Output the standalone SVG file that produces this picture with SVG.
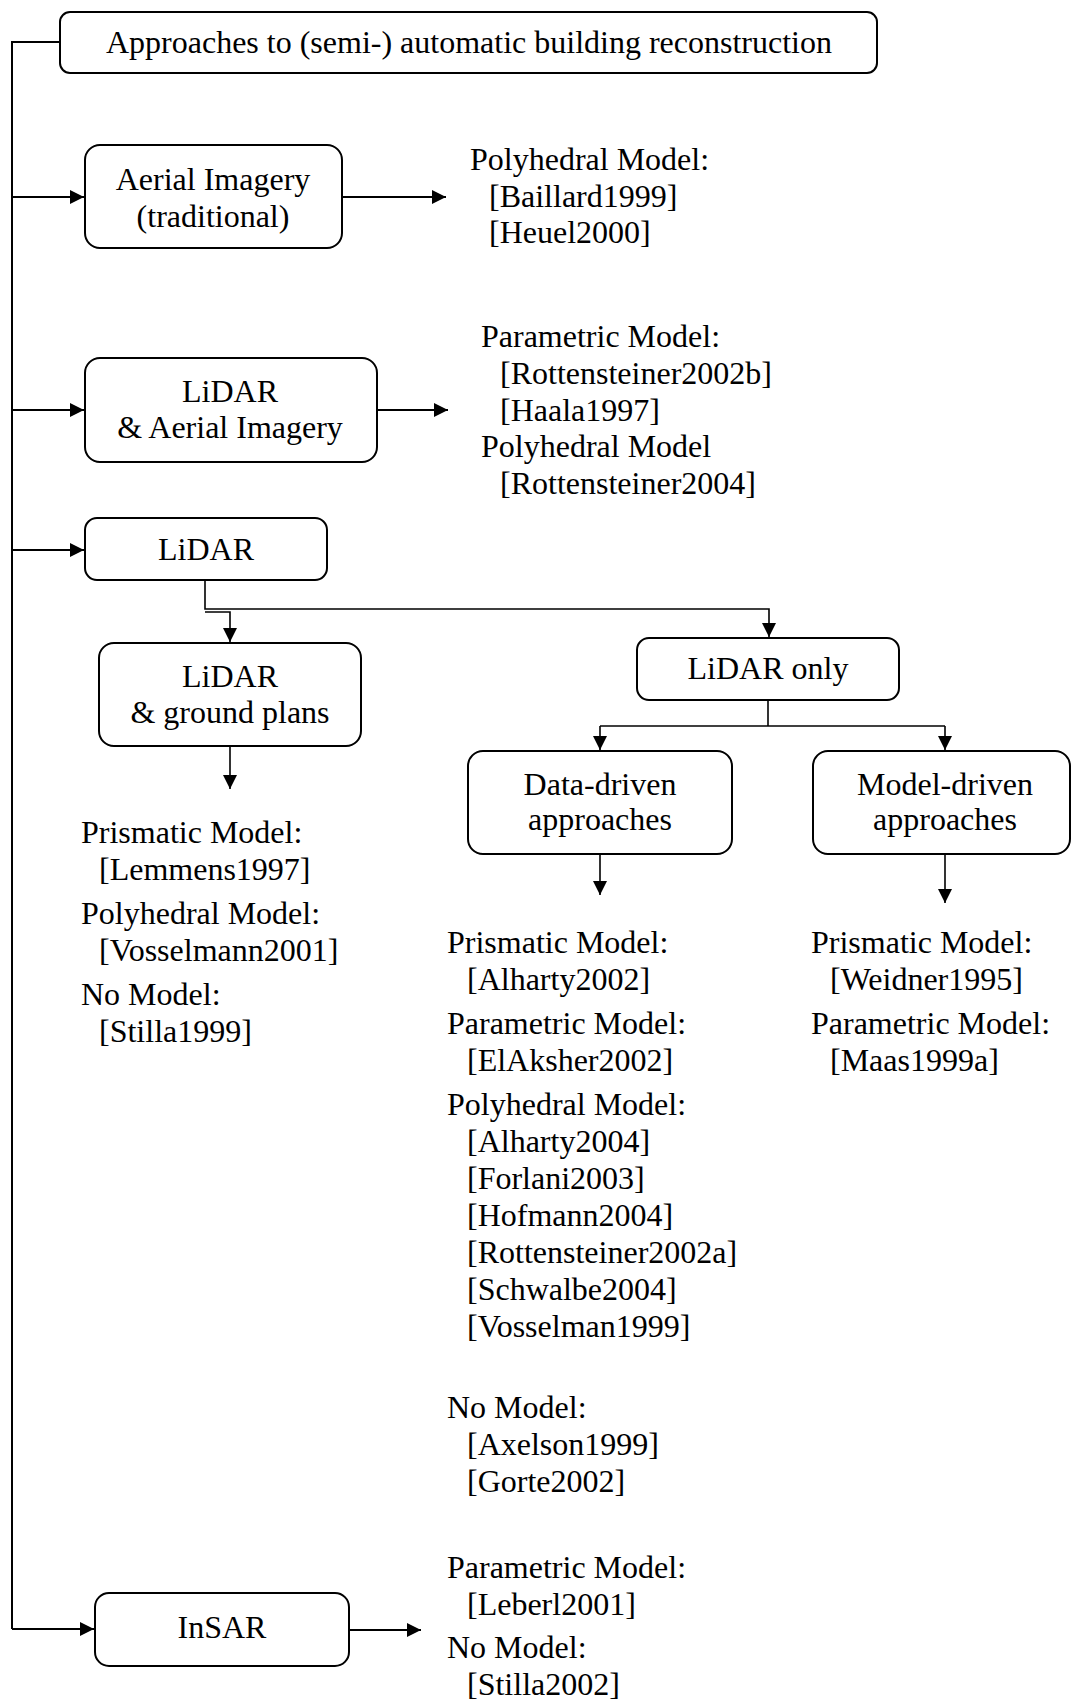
<svg xmlns="http://www.w3.org/2000/svg" width="1072" height="1701" viewBox="0 0 1072 1701">
<style>
.box{fill:#fff;stroke:#000;stroke-width:2}
.t{font-family:"Liberation Serif","Times New Roman",serif;font-size:32px;fill:#000}
.c{text-anchor:middle}
.ln{fill:none;stroke:#000;stroke-width:2}
.ln2{fill:none;stroke:#000;stroke-width:1.6}
</style>
<defs>
<marker id="ah" markerUnits="userSpaceOnUse" markerWidth="16" markerHeight="14" refX="14" refY="7" orient="auto">
<path d="M0,0 L14,7 L0,14 Z" fill="#000"/>
</marker>
</defs>
<rect width="1072" height="1701" fill="#fff"/>

<g id="connectors">
<path class="ln" d="M60,42 H12 V1629"/>
<path class="ln" d="M12,197 H84" marker-end="url(#ah)"/>
<path class="ln" d="M12,410 H84" marker-end="url(#ah)"/>
<path class="ln" d="M12,550 H84" marker-end="url(#ah)"/>
<path class="ln" d="M12,1629 H94" marker-end="url(#ah)"/>
<path class="ln" d="M342,197 H446" marker-end="url(#ah)"/>
<path class="ln" d="M377,410 H448" marker-end="url(#ah)"/>
<path class="ln" d="M349,1630 H421" marker-end="url(#ah)"/>
<path class="ln2" d="M205,580 V609 H769 V637" marker-end="url(#ah)"/>
<path class="ln2" d="M205,612 H230 V642" marker-end="url(#ah)"/>
<path class="ln2" d="M230,746 V789" marker-end="url(#ah)"/>
<path class="ln2" d="M768,700 V726"/>
<path class="ln2" d="M600,726 H945"/>
<path class="ln2" d="M600,726 V750" marker-end="url(#ah)"/>
<path class="ln2" d="M945,726 V750" marker-end="url(#ah)"/>
<path class="ln2" d="M600,854 V895" marker-end="url(#ah)"/>
<path class="ln2" d="M945,854 V903" marker-end="url(#ah)"/>
</g>

<g id="title">
<rect class="box" x="60" y="12" width="817" height="61" rx="10"/>
<text class="t c" x="469" y="53">Approaches to (semi-) automatic building reconstruction</text>
</g>

<g id="aerial">
<rect class="box" x="85" y="145" width="257" height="103" rx="15"/>
<text class="t c" x="213" y="190">Aerial Imagery</text>
<text class="t c" x="213" y="227">(traditional)</text>
</g>
<g id="aerial-refs">
<text class="t" x="470" y="170">Polyhedral Model:</text>
<text class="t" x="489" y="207">[Baillard1999]</text>
<text class="t" x="489" y="243">[Heuel2000]</text>
</g>

<g id="lidar-aerial">
<rect class="box" x="85" y="358" width="292" height="104" rx="15"/>
<text class="t c" x="230" y="402">LiDAR</text>
<text class="t c" x="230" y="438">&amp; Aerial Imagery</text>
</g>
<g id="lidar-aerial-refs">
<text class="t" x="481" y="347">Parametric Model:</text>
<text class="t" x="500" y="384">[Rottensteiner2002b]</text>
<text class="t" x="500" y="421">[Haala1997]</text>
<text class="t" x="481" y="457">Polyhedral Model</text>
<text class="t" x="500" y="494">[Rottensteiner2004]</text>
</g>

<g id="lidar">
<rect class="box" x="85" y="518" width="242" height="62" rx="12"/>
<text class="t c" x="206" y="560">LiDAR</text>
</g>

<g id="lidar-ground">
<rect class="box" x="99" y="643" width="262" height="103" rx="15"/>
<text class="t c" x="230" y="687">LiDAR</text>
<text class="t c" x="230" y="723">&amp; ground plans</text>
</g>
<g id="lidar-ground-refs">
<text class="t" x="81" y="843">Prismatic Model:</text>
<text class="t" x="99" y="880">[Lemmens1997]</text>
<text class="t" x="81" y="924">Polyhedral Model:</text>
<text class="t" x="99" y="961">[Vosselmann2001]</text>
<text class="t" x="81" y="1005">No Model:</text>
<text class="t" x="99" y="1042">[Stilla1999]</text>
</g>

<g id="lidar-only">
<rect class="box" x="637" y="638" width="262" height="62" rx="12"/>
<text class="t c" x="768" y="679">LiDAR only</text>
</g>

<g id="data-driven">
<rect class="box" x="468" y="751" width="264" height="103" rx="15"/>
<text class="t c" x="600" y="795">Data-driven</text>
<text class="t c" x="600" y="830">approaches</text>
</g>
<g id="data-driven-refs">
<text class="t" x="447" y="953">Prismatic Model:</text>
<text class="t" x="467" y="990">[Alharty2002]</text>
<text class="t" x="447" y="1034">Parametric Model:</text>
<text class="t" x="467" y="1071">[ElAksher2002]</text>
<text class="t" x="447" y="1115">Polyhedral Model:</text>
<text class="t" x="467" y="1152">[Alharty2004]</text>
<text class="t" x="467" y="1189">[Forlani2003]</text>
<text class="t" x="467" y="1226">[Hofmann2004]</text>
<text class="t" x="467" y="1263">[Rottensteiner2002a]</text>
<text class="t" x="467" y="1300">[Schwalbe2004]</text>
<text class="t" x="467" y="1337">[Vosselman1999]</text>
<text class="t" x="447" y="1418">No Model:</text>
<text class="t" x="467" y="1455">[Axelson1999]</text>
<text class="t" x="467" y="1492">[Gorte2002]</text>
</g>

<g id="model-driven">
<rect class="box" x="813" y="751" width="257" height="103" rx="15"/>
<text class="t c" x="945" y="795">Model-driven</text>
<text class="t c" x="945" y="830">approaches</text>
</g>
<g id="model-driven-refs">
<text class="t" x="811" y="953">Prismatic Model:</text>
<text class="t" x="830" y="990">[Weidner1995]</text>
<text class="t" x="811" y="1034">Parametric Model:</text>
<text class="t" x="830" y="1071">[Maas1999a]</text>
</g>

<g id="insar">
<rect class="box" x="95" y="1593" width="254" height="73" rx="14"/>
<text class="t c" x="222" y="1638">InSAR</text>
</g>
<g id="insar-refs">
<text class="t" x="447" y="1578">Parametric Model:</text>
<text class="t" x="467" y="1615">[Leberl2001]</text>
<text class="t" x="447" y="1658">No Model:</text>
<text class="t" x="467" y="1695">[Stilla2002]</text>
</g>
</svg>
